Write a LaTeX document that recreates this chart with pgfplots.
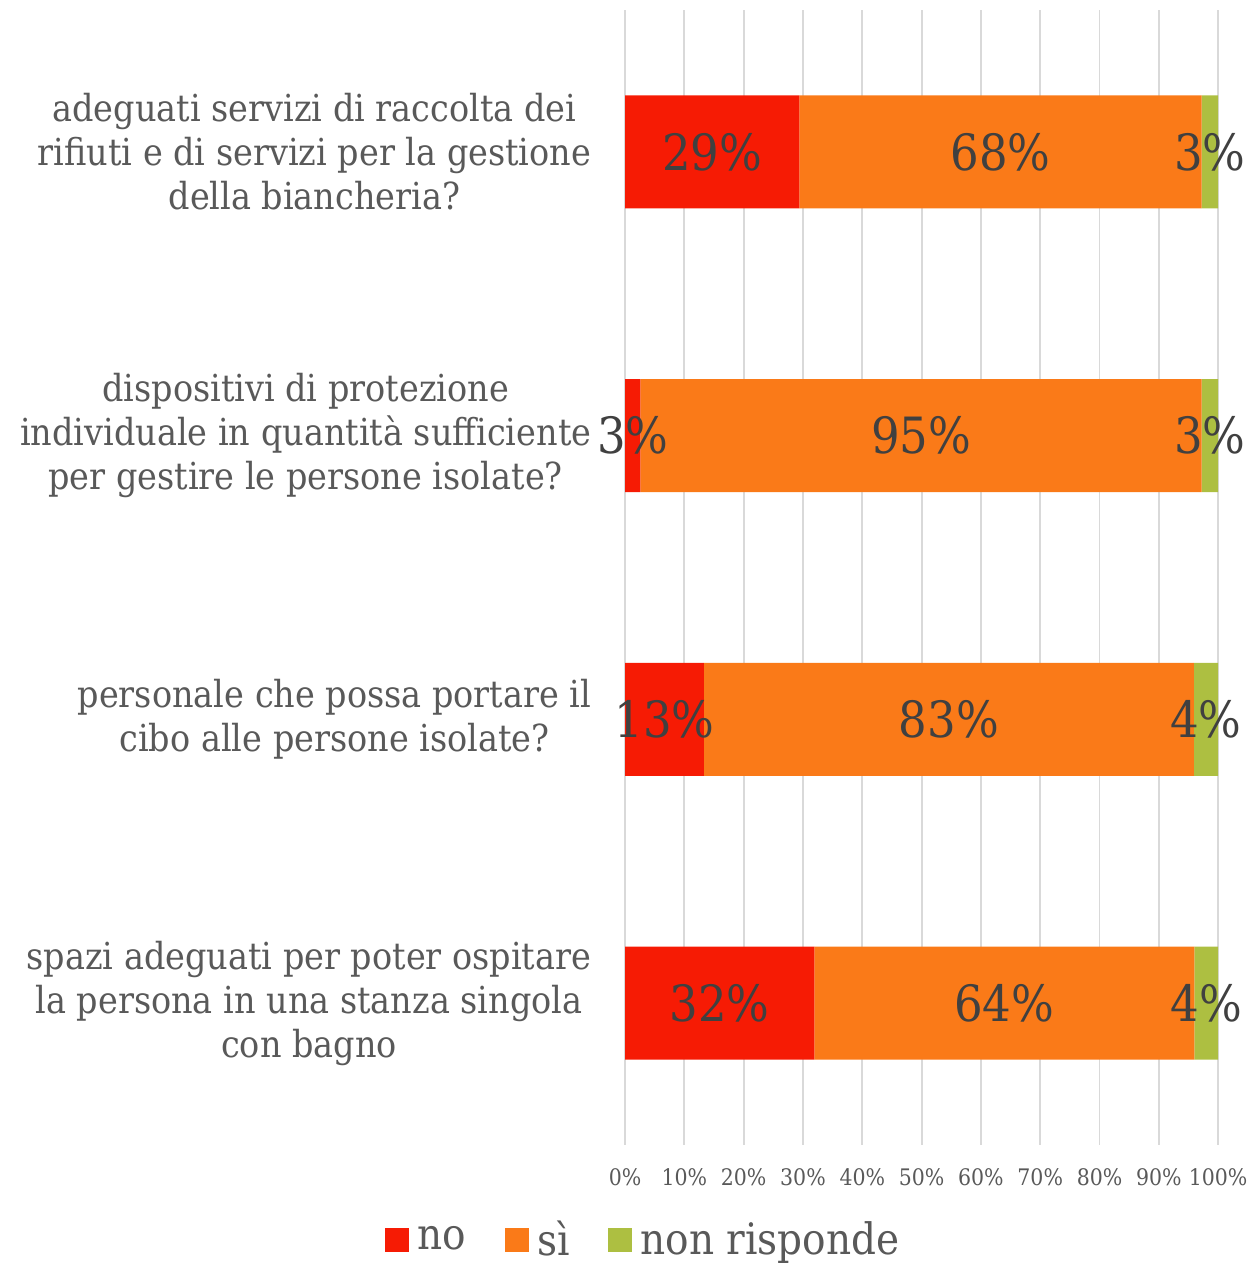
\documentclass[border=0pt]{standalone}
\usepackage{fontspec}
\setmainfont{DejaVu Serif Condensed}
\usepackage{pgfplots}
\usepackage{pgfplotstable}
\pgfplotsset{compat=1.18}

\definecolor{cno}{HTML}{F61B04}
\definecolor{csi}{HTML}{FA7A18}
\definecolor{cnr}{HTML}{ADBF41}
\definecolor{ctxt}{HTML}{595959}
\definecolor{cval}{HTML}{404040}

% one row per question, top to bottom; values in percent
\pgfplotstableread{
y no si nr
1 29.4 67.8 2.8
2 2.6 94.6 2.8
3 13.3 82.6 4.1
4 31.9 64.1 4.0
}\risposte

\pgfplotsset{
    frame/.style={scale only axis, width=213.5pt, height=408.6pt,
        xmin=0, xmax=100, ymin=0.5, ymax=4.5, y dir=reverse, clip=false},
    sq/.style={legend image code/.code={\fill[##1] (0pt,-4.3pt) rectangle (8.6pt,4.3pt);}},
    val/.style={only marks, mark=none, point meta=explicit,
        nodes near coords={\pgfmathprintnumber[fixed,precision=0,assume math mode=true]{\pgfplotspointmeta}\%},
        nodes near coords style={anchor=center, text=cval,
            font=\fontsize{18pt}{22pt}\selectfont}},
}

\begin{document}
\begin{tikzpicture}
\begin{axis}[
    frame,
    xbar stacked,
    bar width=40.7pt,
    xtick={0,10,...,100},
    xticklabels={0\%,10\%,20\%,30\%,40\%,50\%,60\%,70\%,80\%,90\%,100\%},
    ytick={1,2,3,4},
    yticklabels={
        {adeguati servizi di raccolta dei\\rifiuti e di servizi per la gestione\\della biancheria?},
        {dispositivi di protezione\\individuale in quantità sufficiente\\per gestire le persone isolate?},
        {personale che possa portare il\\cibo alle persone isolate?},
        {spazi adeguati per poter ospitare\\la persona in una stanza singola\\con bagno}},
    yticklabel style={align=center, text=ctxt, inner sep=0pt, xshift=-12pt,
        font=\fontsize{13.4pt}{15.84pt}\selectfont},
    xticklabel style={text=ctxt, yshift=-5pt, font=\fontsize{8.2pt}{10pt}\selectfont},
    axis line style={draw=none},
    major tick length=0pt,
    xmajorgrids,
    grid style={color=black!15, line width=0.7pt},
    legend columns=3,
    legend style={draw=none, fill=none, at={(axis description cs:0.036,-0.0837)},
        anchor=center, text=ctxt, font=\fontsize{15.6pt}{18pt}\selectfont,
        nodes={inner xsep=3pt},
        /tikz/every even column/.append style={column sep=11pt}},
]
\addplot[fill=cno, draw=none, sq] table[x=no, y=y] {\risposte};
\addplot[fill=csi, draw=none, sq] table[x=si, y=y] {\risposte};
\addplot[fill=cnr, draw=none, sq] table[x=nr, y=y] {\risposte};
\legend{no, sì, non risponde}

\coordinate (bbsw) at (axis description cs:-1.0540,-0.10396);
\coordinate (bbne) at (axis description cs:1.0590,1.00881);
\end{axis}

% same frame, no stacking: value labels centred on each segment
\begin{axis}[frame, hide axis]
\addplot[val] table[x expr=\thisrow{no}/2, y=y, meta=no] {\risposte};
\addplot[val] table[x expr=\thisrow{no}+\thisrow{si}/2, y=y, meta=si] {\risposte};
\addplot[val] table[x expr=\thisrow{no}+\thisrow{si}+\thisrow{nr}/2, y=y, meta=nr] {\risposte};
\end{axis}
\pgfresetboundingbox
\path (bbsw) rectangle (bbne);
\end{tikzpicture}
\end{document}
